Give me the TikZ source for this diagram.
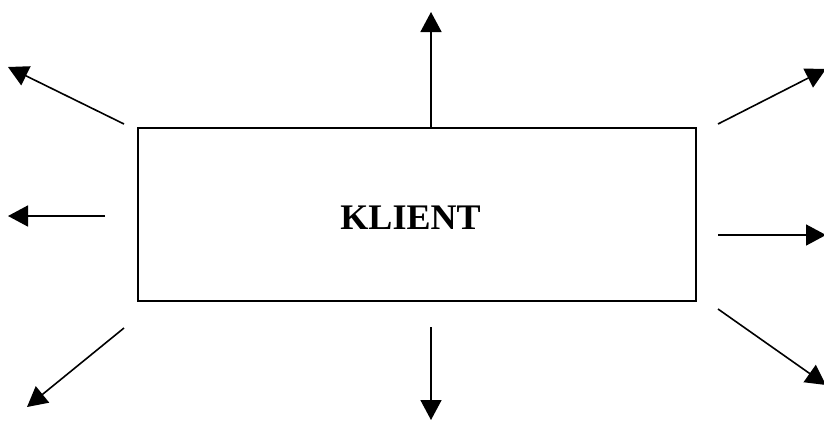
\documentclass[tikz,border=0pt]{standalone}
\usepackage{fontspec}
\setmainfont{Liberation Serif}
\usetikzlibrary{arrows.meta}

\begin{document}
\begin{tikzpicture}[
    x=1pt, y=-1pt,
    arrow/.style={-{Triangle[length=20pt, width=21pt]}, line width=1.6pt},
    box/.style={draw, line width=1.6pt, minimum width=558pt, minimum height=173pt, inner sep=0pt},
  ]
    \useasboundingbox (0, 0) rectangle (824, 421);

    \node[box] (klient) at (417, 214.5) {};
    \node[font=\bfseries\fontsize{36}{41}\selectfont] (label) at (410.5, 218) {KLIENT};

    % arrows pointing away from the box
    \coordinate (up0) at (431, 127);   \coordinate (up1) at (431, 12);
    \coordinate (dn0) at (431, 327);   \coordinate (dn1) at (431, 420);
    \coordinate (lf0) at (105, 216);   \coordinate (lf1) at (8, 216);
    \coordinate (rt0) at (718, 235);   \coordinate (rt1) at (826, 235);
    \coordinate (ul0) at (124, 124);   \coordinate (ul1) at (8, 67);
    \coordinate (dl0) at (124, 328);   \coordinate (dl1) at (27, 407);
    \coordinate (ur0) at (718, 124);   \coordinate (ur1) at (826, 69);
    \coordinate (dr0) at (718, 309);   \coordinate (dr1) at (826, 385);

    \foreach \d in {up, dn, lf, rt, ul, dl, ur, dr}
        \draw[arrow] (\d0) -- (\d1);
\end{tikzpicture}
\end{document}
